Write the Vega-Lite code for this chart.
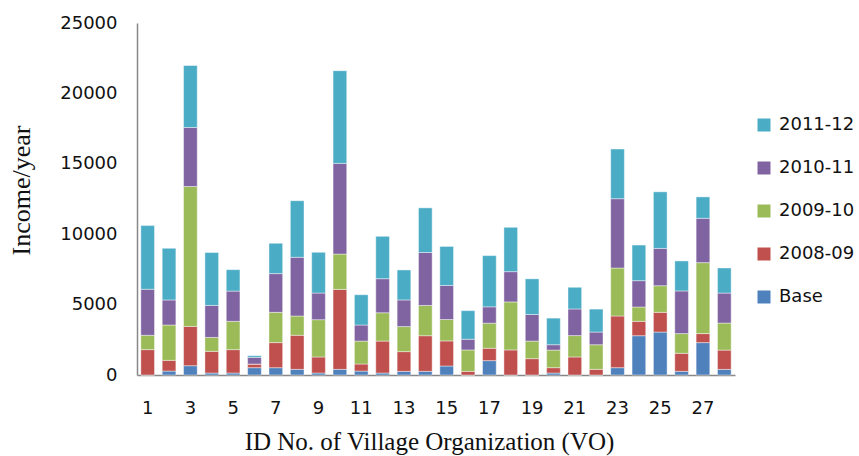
{
  "$schema": "https://vega.github.io/schema/vega-lite/v6.json",
  "width": 598,
  "height": 352,
  "autosize": {"type": "none"},
  "padding": {"left": 137, "top": 23, "right": 124, "bottom": 81},
  "background": "#ffffff",
  "config": {"view": {"stroke": null}},
  "data": {"values": [
    {"vo":1,"series":"Base","idx":0,"value":0},{"vo":1,"series":"2008-09","idx":1,"value":1800},{"vo":1,"series":"2009-10","idx":2,"value":1020},{"vo":1,"series":"2010-11","idx":3,"value":3270},{"vo":1,"series":"2011-12","idx":4,"value":4520},
    {"vo":2,"series":"Base","idx":0,"value":280},{"vo":2,"series":"2008-09","idx":1,"value":760},{"vo":2,"series":"2009-10","idx":2,"value":2510},{"vo":2,"series":"2010-11","idx":3,"value":1780},{"vo":2,"series":"2011-12","idx":4,"value":3670},
    {"vo":3,"series":"Base","idx":0,"value":660},{"vo":3,"series":"2008-09","idx":1,"value":2790},{"vo":3,"series":"2009-10","idx":2,"value":9940},{"vo":3,"series":"2010-11","idx":3,"value":4190},{"vo":3,"series":"2011-12","idx":4,"value":4400},
    {"vo":4,"series":"Base","idx":0,"value":140},{"vo":4,"series":"2008-09","idx":1,"value":1540},{"vo":4,"series":"2009-10","idx":2,"value":990},{"vo":4,"series":"2010-11","idx":3,"value":2270},{"vo":4,"series":"2011-12","idx":4,"value":3760},
    {"vo":5,"series":"Base","idx":0,"value":140},{"vo":5,"series":"2008-09","idx":1,"value":1660},{"vo":5,"series":"2009-10","idx":2,"value":2010},{"vo":5,"series":"2010-11","idx":3,"value":2150},{"vo":5,"series":"2011-12","idx":4,"value":1520},
    {"vo":6,"series":"Base","idx":0,"value":520},{"vo":6,"series":"2008-09","idx":1,"value":260},{"vo":6,"series":"2009-10","idx":2,"value":0},{"vo":6,"series":"2010-11","idx":3,"value":470},{"vo":6,"series":"2011-12","idx":4,"value":120},
    {"vo":7,"series":"Base","idx":0,"value":520},{"vo":7,"series":"2008-09","idx":1,"value":1780},{"vo":7,"series":"2009-10","idx":2,"value":2150},{"vo":7,"series":"2010-11","idx":3,"value":2750},{"vo":7,"series":"2011-12","idx":4,"value":2150},
    {"vo":8,"series":"Base","idx":0,"value":400},{"vo":8,"series":"2008-09","idx":1,"value":2420},{"vo":8,"series":"2009-10","idx":2,"value":1370},{"vo":8,"series":"2010-11","idx":3,"value":4170},{"vo":8,"series":"2011-12","idx":4,"value":4020},
    {"vo":9,"series":"Base","idx":0,"value":140},{"vo":9,"series":"2008-09","idx":1,"value":1140},{"vo":9,"series":"2009-10","idx":2,"value":2650},{"vo":9,"series":"2010-11","idx":3,"value":1890},{"vo":9,"series":"2011-12","idx":4,"value":2890},
    {"vo":10,"series":"Base","idx":0,"value":400},{"vo":10,"series":"2008-09","idx":1,"value":5680},{"vo":10,"series":"2009-10","idx":2,"value":2510},{"vo":10,"series":"2010-11","idx":3,"value":6440},{"vo":10,"series":"2011-12","idx":4,"value":6580},
    {"vo":11,"series":"Base","idx":0,"value":280},{"vo":11,"series":"2008-09","idx":1,"value":500},{"vo":11,"series":"2009-10","idx":2,"value":1630},{"vo":11,"series":"2010-11","idx":3,"value":1140},{"vo":11,"series":"2011-12","idx":4,"value":2150},
    {"vo":12,"series":"Base","idx":0,"value":140},{"vo":12,"series":"2008-09","idx":1,"value":2270},{"vo":12,"series":"2009-10","idx":2,"value":2010},{"vo":12,"series":"2010-11","idx":3,"value":2420},{"vo":12,"series":"2011-12","idx":4,"value":3010},
    {"vo":13,"series":"Base","idx":0,"value":260},{"vo":13,"series":"2008-09","idx":1,"value":1400},{"vo":13,"series":"2009-10","idx":2,"value":1780},{"vo":13,"series":"2010-11","idx":3,"value":1890},{"vo":13,"series":"2011-12","idx":4,"value":2130},
    {"vo":14,"series":"Base","idx":0,"value":260},{"vo":14,"series":"2008-09","idx":1,"value":2530},{"vo":14,"series":"2009-10","idx":2,"value":2150},{"vo":14,"series":"2010-11","idx":3,"value":3760},{"vo":14,"series":"2011-12","idx":4,"value":3170},
    {"vo":15,"series":"Base","idx":0,"value":640},{"vo":15,"series":"2008-09","idx":1,"value":1780},{"vo":15,"series":"2009-10","idx":2,"value":1520},{"vo":15,"series":"2010-11","idx":3,"value":2420},{"vo":15,"series":"2011-12","idx":4,"value":2770},
    {"vo":16,"series":"Base","idx":0,"value":0},{"vo":16,"series":"2008-09","idx":1,"value":260},{"vo":16,"series":"2009-10","idx":2,"value":1520},{"vo":16,"series":"2010-11","idx":3,"value":760},{"vo":16,"series":"2011-12","idx":4,"value":2030},
    {"vo":17,"series":"Base","idx":0,"value":1020},{"vo":17,"series":"2008-09","idx":1,"value":880},{"vo":17,"series":"2009-10","idx":2,"value":1780},{"vo":17,"series":"2010-11","idx":3,"value":1160},{"vo":17,"series":"2011-12","idx":4,"value":3640},
    {"vo":18,"series":"Base","idx":0,"value":0},{"vo":18,"series":"2008-09","idx":1,"value":1780},{"vo":18,"series":"2009-10","idx":2,"value":3410},{"vo":18,"series":"2010-11","idx":3,"value":2150},{"vo":18,"series":"2011-12","idx":4,"value":3150},
    {"vo":19,"series":"Base","idx":0,"value":0},{"vo":19,"series":"2008-09","idx":1,"value":1160},{"vo":19,"series":"2009-10","idx":2,"value":1250},{"vo":19,"series":"2010-11","idx":3,"value":1890},{"vo":19,"series":"2011-12","idx":4,"value":2530},
    {"vo":20,"series":"Base","idx":0,"value":140},{"vo":20,"series":"2008-09","idx":1,"value":380},{"vo":20,"series":"2009-10","idx":2,"value":1250},{"vo":20,"series":"2010-11","idx":3,"value":380},{"vo":20,"series":"2011-12","idx":4,"value":1890},
    {"vo":21,"series":"Base","idx":0,"value":0},{"vo":21,"series":"2008-09","idx":1,"value":1280},{"vo":21,"series":"2009-10","idx":2,"value":1520},{"vo":21,"series":"2010-11","idx":3,"value":1890},{"vo":21,"series":"2011-12","idx":4,"value":1540},
    {"vo":22,"series":"Base","idx":0,"value":0},{"vo":22,"series":"2008-09","idx":1,"value":400},{"vo":22,"series":"2009-10","idx":2,"value":1750},{"vo":22,"series":"2010-11","idx":3,"value":900},{"vo":22,"series":"2011-12","idx":4,"value":1630},
    {"vo":23,"series":"Base","idx":0,"value":520},{"vo":23,"series":"2008-09","idx":1,"value":3670},{"vo":23,"series":"2009-10","idx":2,"value":3410},{"vo":23,"series":"2010-11","idx":3,"value":4920},{"vo":23,"series":"2011-12","idx":4,"value":3530},
    {"vo":24,"series":"Base","idx":0,"value":2790},{"vo":24,"series":"2008-09","idx":1,"value":1020},{"vo":24,"series":"2009-10","idx":2,"value":1020},{"vo":24,"series":"2010-11","idx":3,"value":1870},{"vo":24,"series":"2011-12","idx":4,"value":2530},
    {"vo":25,"series":"Base","idx":0,"value":3050},{"vo":25,"series":"2008-09","idx":1,"value":1400},{"vo":25,"series":"2009-10","idx":2,"value":1890},{"vo":25,"series":"2010-11","idx":3,"value":2650},{"vo":25,"series":"2011-12","idx":4,"value":4020},
    {"vo":26,"series":"Base","idx":0,"value":260},{"vo":26,"series":"2008-09","idx":1,"value":1280},{"vo":26,"series":"2009-10","idx":2,"value":1400},{"vo":26,"series":"2010-11","idx":3,"value":3030},{"vo":26,"series":"2011-12","idx":4,"value":2130},
    {"vo":27,"series":"Base","idx":0,"value":2300},{"vo":27,"series":"2008-09","idx":1,"value":640},{"vo":27,"series":"2009-10","idx":2,"value":5040},{"vo":27,"series":"2010-11","idx":3,"value":3150},{"vo":27,"series":"2011-12","idx":4,"value":1520},
    {"vo":28,"series":"Base","idx":0,"value":400},{"vo":28,"series":"2008-09","idx":1,"value":1370},{"vo":28,"series":"2009-10","idx":2,"value":1920},{"vo":28,"series":"2010-11","idx":3,"value":2130},{"vo":28,"series":"2011-12","idx":4,"value":1780}
  ]},
  "mark": {"type": "bar", "stroke": "#ffffff", "strokeWidth": 0.6, "strokeOpacity": 0.7},
  "encoding": {
    "x": {
      "field": "vo", "type": "ordinal",
      "scale": {"paddingInner": 0.36, "paddingOuter": 0.18},
      "axis": {
        "values": [1,3,5,7,9,11,13,15,17,19,21,23,25,27],
        "labelAngle": 0, "ticks": false, "tickSize": 0, "labelPadding": 24,
        "labelFont": "DejaVu Sans", "labelFontSize": 18, "labelColor": "#111111",
        "domainColor": "#888888", "domainWidth": 1.5,
        "title": "ID No. of  Village Organization (VO)",
        "titleFont": "Liberation Serif", "titleFontSize": 25, "titleFontWeight": "normal", "titleColor": "#111111",
        "titleX": 292, "titleY": 74, "titleBaseline": "alphabetic", "titleAnchor": "middle"
      }
    },
    "y": {
      "field": "value", "type": "quantitative", "stack": "zero",
      "scale": {"domain": [0, 25000], "nice": false},
      "axis": {
        "values": [0,5000,10000,15000,20000,25000],
        "grid": false, "ticks": false, "tickSize": 0, "labelPadding": 20,
        "labelFont": "DejaVu Sans", "labelFontSize": 18, "labelColor": "#111111",
        "format": "d",
        "domainColor": "#888888", "domainWidth": 1.5,
        "title": "Income/year",
        "titleFont": "Liberation Serif", "titleFontSize": 26, "titleFontWeight": "normal", "titleColor": "#111111",
        "titleX": -116, "titleY": 167, "titleBaseline": "middle", "titleAlign": "center", "titleAngle": -90
      }
    },
    "color": {
      "field": "series", "type": "nominal",
      "scale": {
        "domain": ["2011-12","2010-11","2009-10","2008-09","Base"],
        "range": ["#4BACC6","#8064A2","#9BBB59","#C0504D","#4F81BD"]
      },
      "legend": {
        "title": null, "orient": "none", "legendX": 618, "legendY": 93,
        "symbolType": "square", "symbolSize": 169, "symbolStrokeWidth": 0,
        "labelFont": "DejaVu Sans", "labelFontSize": 18, "labelColor": "#111111",
        "rowPadding": 25, "labelOffset": 6
      }
    },
    "order": {"field": "idx", "type": "quantitative", "sort": "ascending"}
  }
}
